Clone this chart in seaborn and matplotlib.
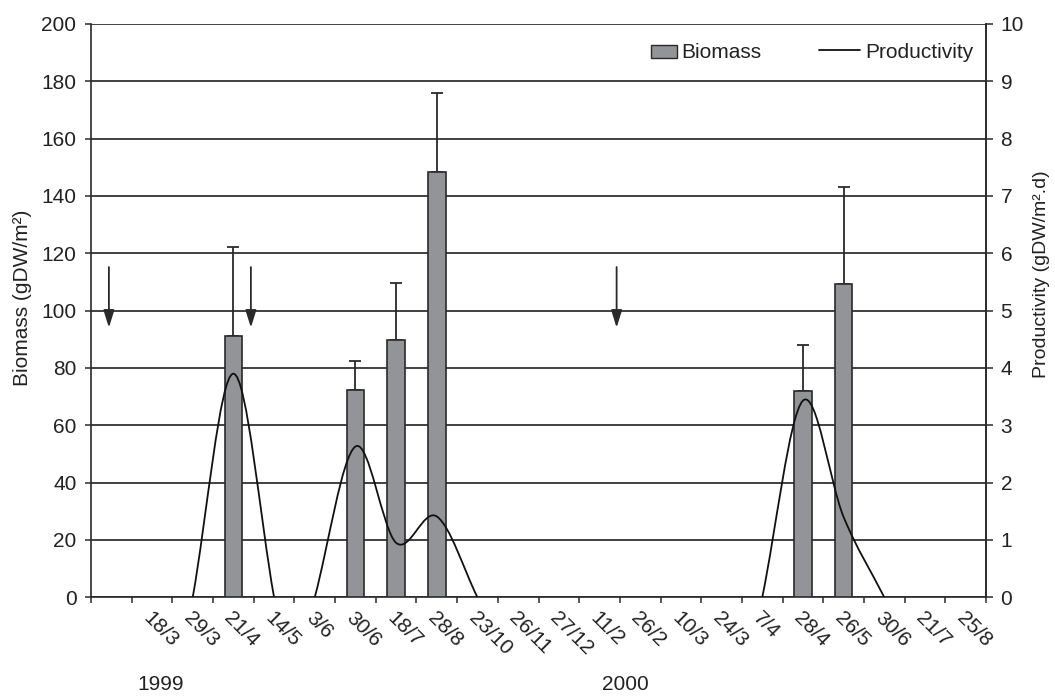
import numpy as np
import pandas as pd
import matplotlib
matplotlib.use("Agg")
import matplotlib.pyplot as plt
import matplotlib.transforms as mtransforms
from matplotlib.path import Path
from matplotlib.patches import PathPatch, Rectangle, Patch
from matplotlib.lines import Line2D
from matplotlib.legend_handler import HandlerPatch
import seaborn as sns

# ---------------- data ----------------
categories = ["", "18/3", "29/3", "21/4", "14/5", "3/6", "30/6", "18/7", "28/8",
              "23/10", "26/11", "27/12", "11/2", "26/2", "10/3", "24/3", "7/4",
              "28/4", "26/5", "30/6", "21/7", "25/8"]
biomass = [np.nan, np.nan, np.nan, 91.2, np.nan, np.nan, 72.3, 89.8, 148.3,
           np.nan, np.nan, np.nan, np.nan, np.nan, np.nan, np.nan, np.nan,
           72.0, 109.3, np.nan, np.nan, np.nan]
biomass_err = [np.nan, np.nan, np.nan, 31.1, np.nan, np.nan, 10.1, 19.9, 27.7,
               np.nan, np.nan, np.nan, np.nan, np.nan, np.nan, np.nan, np.nan,
               15.9, 33.7, np.nan, np.nan, np.nan]
productivity = [np.nan, np.nan, 0.0, 3.9, 0.0, 0.0, 2.63, 0.95, 1.41,
                0.0, np.nan, np.nan, np.nan, np.nan, np.nan, np.nan, 0.0,
                3.43, 1.4, 0.0, np.nan, np.nan]
# productivity line segments (gaps between harvest periods)
prod_segments = [(2, 4), (5, 9), (16, 19)]
arrow_x = [-0.06, 3.43, 12.42]
arrow_top = 115.2
arrow_tip = 94.1
years = ["1999", "2000"]

# ---------------- style ----------------
sns.set_theme(style="white")
plt.rcParams["font.family"] = ["Liberation Sans", "DejaVu Sans"]
plt.rcParams["font.size"] = 15
dark = "#2a2a2a"
txt = "#222222"

fig = plt.figure(figsize=(10.55, 6.96), dpi=100)
ax = fig.add_axes([0.08626, 0.14181, 0.84834, 0.82371])

pos = list(range(len(categories)))
df = pd.DataFrame({"pos": pos, "biomass": biomass})
sns.barplot(data=df, x="pos", y="biomass", order=pos, color="#939498",
            saturation=1, width=0.43, edgecolor=dark, linewidth=1.2,
            errorbar=None, ax=ax, zorder=3)
b = np.array(biomass, dtype=float)
e = np.array(biomass_err, dtype=float)
m = ~np.isnan(b)
ax.errorbar(np.array(pos)[m], b[m], yerr=[np.zeros(m.sum()), e[m]], fmt="none",
            ecolor=dark, elinewidth=1.3, capsize=4.3, capthick=1.3, zorder=2)

ax.set_xlim(-0.5, len(categories) - 0.5)
ax.set_ylim(0, 200)
ax.set_yticks(np.arange(0, 201, 20))
ax.yaxis.grid(True, color="#333333", lw=1.3)
ax.xaxis.grid(False)
ax.set_axisbelow(True)
ax.set_xlabel("")
ax.set_ylabel("Biomass (gDW/m²)", fontsize=15, color=txt)
ax.yaxis.set_label_coords(-0.066, 0.522)

# x ticks at category boundaries, labels at centres
ax.set_xticks(np.arange(-0.5, len(categories), 1.0))
ax.set_xticklabels([])
ax.set_xticks(pos, minor=True)
ax.set_xticklabels(categories, minor=True, rotation=-45, ha="left", va="top",
                   rotation_mode="anchor", fontsize=15, color=txt)
ax.tick_params(axis="x", which="major", direction="out", length=4.5, width=1.1,
               color=dark, bottom=True)
ax.tick_params(axis="x", which="minor", length=0, pad=8, bottom=True)
off = mtransforms.ScaledTranslation(0.5 / 72, 0, fig.dpi_scale_trans)
for lab in ax.xaxis.get_minorticklabels():
    lab.set_transform(lab.get_transform() + off)
ax.tick_params(axis="y", direction="out", length=4.5, width=1.1, color=dark,
               pad=6, labelsize=15, labelcolor=txt, left=True)

for s in ["left", "bottom", "right"]:
    ax.spines[s].set_color(dark)
    ax.spines[s].set_linewidth(1.2)
ax.spines["top"].set_visible(False)

# arrows
for xa in arrow_x:
    ax.annotate("", xy=(xa, arrow_tip), xytext=(xa, arrow_top),
                arrowprops=dict(arrowstyle="-|>,head_length=0.7,head_width=0.22",
                                color=dark, lw=1.3, shrinkA=0, shrinkB=0),
                zorder=4)

# ---------------- productivity (right axis) ----------------
ax2 = ax.twinx()
ax2.set_ylim(0, 10)
ax2.set_yticks(np.arange(0, 11, 1))
ax2.grid(False)
ax2.tick_params(axis="y", direction="out", length=5, width=1.1, color=dark,
                pad=5.5, labelsize=15, labelcolor=txt, right=True)
for s in ["left", "bottom", "top"]:
    ax2.spines[s].set_visible(False)
ax2.spines["right"].set_color(dark)
ax2.spines["right"].set_linewidth(1.2)
ax2.set_ylabel("Productivity (gDW/m².d)", fontsize=14, color=txt, rotation=90)
ax2.yaxis.set_label_coords(1.0525, 0.563)

p = np.array(productivity, dtype=float)
for (i0, i1) in prod_segments:
    xs = np.arange(i0, i1 + 1, dtype=float)
    ys = p[i0:i1 + 1]
    n = len(xs)
    tx = np.zeros(n)
    ty = np.zeros(n)
    for k in range(n):
        if k == 0:
            tx[k], ty[k] = xs[1] - xs[0], ys[1] - ys[0]
        elif k == n - 1:
            tx[k], ty[k] = xs[-1] - xs[-2], ys[-1] - ys[-2]
        else:
            tx[k], ty[k] = (xs[k + 1] - xs[k - 1]) / 2, (ys[k + 1] - ys[k - 1]) / 2
    verts = [(xs[0], ys[0])]
    codes = [Path.MOVETO]
    for k in range(n - 1):
        verts += [(xs[k] + tx[k] / 3, ys[k] + ty[k] / 3),
                  (xs[k + 1] - tx[k + 1] / 3, ys[k + 1] - ty[k + 1] / 3),
                  (xs[k + 1], ys[k + 1])]
        codes += [Path.CURVE4] * 3
    ax2.add_patch(PathPatch(Path(verts, codes), fill=False, edgecolor="#111111",
                            lw=1.3, zorder=5))

# ---------------- legend ----------------
def thin_rect(legend, orig_handle, xdescent, ydescent, width, height, fontsize):
    w = 1.25 * fontsize
    return Rectangle((-xdescent + width - w, -ydescent + height * 0.0), w,
                     height * 0.85)

handles = [Patch(facecolor="#939498", edgecolor=dark, linewidth=1.0),
           Line2D([], [], color="#111111", lw=1.3)]
leg = ax2.legend(handles, ["Biomass", "Productivity"], ncol=2, frameon=False,
                 loc="center right", bbox_to_anchor=(0.9855, 0.951),
                 fontsize=15, handlelength=2.0, handletextpad=0.22,
                 columnspacing=2.74, borderpad=0, borderaxespad=0,
                 handler_map={Patch: HandlerPatch(patch_func=thin_rect)})
for t in leg.get_texts():
    t.set_color(txt)

# year labels
fig.text(161 / 1055, 1 - 685 / 696, years[0], ha="center", va="center",
         fontsize=15, color=txt)
fig.text(625 / 1055, 1 - 685 / 696, years[1], ha="center", va="center",
         fontsize=15, color=txt)

fig.savefig("out.png", dpi=100)
